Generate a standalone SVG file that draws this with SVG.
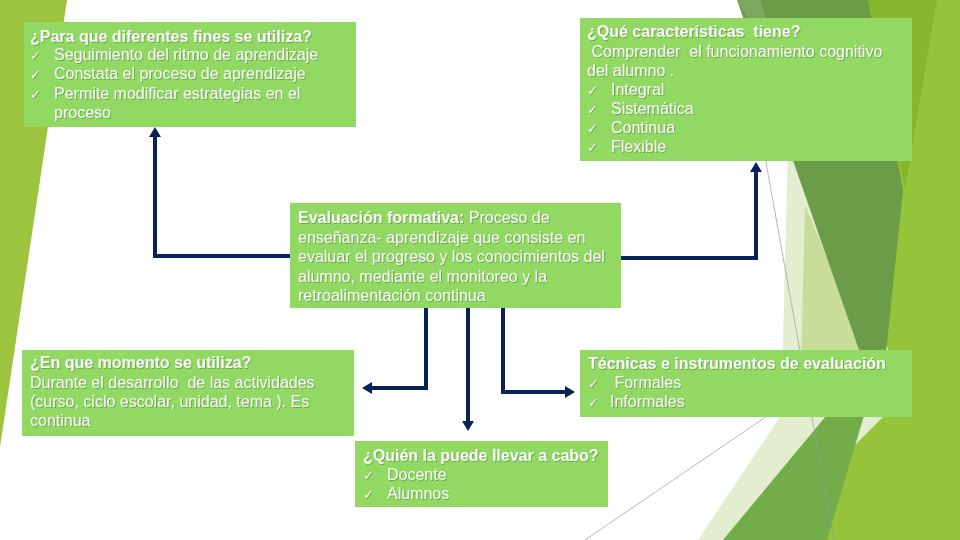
<svg xmlns="http://www.w3.org/2000/svg" width="960" height="540" viewBox="0 0 960 540">
<defs>
<style>
.box{fill:#92d964}
.t{font-family:"Liberation Sans",Arial,sans-serif;font-size:16px;fill:#f9f9f9;white-space:pre;filter:url(#sh)}
.b{font-weight:bold}
.ck{font-family:"DejaVu Sans",sans-serif;font-size:13px;fill:#f9f9f9;filter:url(#sh)}
.con{fill:none;stroke:#0b2259;stroke-width:4;stroke-linejoin:miter;marker-end:url(#ah)}
.thin{stroke:#9a9a9a;stroke-width:0.7;fill:none}
</style>
<filter id="sh" x="-5%" y="-20%" width="110%" height="140%">
<feDropShadow dx="1" dy="1" stdDeviation="0.4" flood-color="#3f6a2a" flood-opacity="0.45"/>
</filter>
<marker id="ah" viewBox="0 0 10 12" refX="2" refY="6" markerWidth="10" markerHeight="12" markerUnits="userSpaceOnUse" orient="auto">
<path d="M0,0 L10,6 L0,12 z" fill="#0b2259"/>
</marker>
</defs>
<rect width="960" height="540" fill="#ffffff"/>
<g id="decor">
<polygon points="0,0 67,0 0,447" fill="#9cc43f"/>
<polygon points="862,0 960,0 960,540 795,540" fill="#95c33a"/>
<polygon points="868,0 937,0 905,190" fill="#87b52c"/>
<polygon points="788,150 840,150 900,400 760,540 698,540 780,417 783,340" fill="#e3eed0"/>
<polygon points="805,205 870,360 800,405" fill="#c8de98"/>
<polygon points="737,0 868,0 903,190 880,410" fill="#6b9c47"/>
<polygon points="737,0 760,0 790,90" fill="#7ea860"/>
<polygon points="885,345 723,540 827,540" fill="#72ad4a"/>
<line class="thin" x1="762" y1="140" x2="834" y2="540"/>
<line class="thin" x1="585" y1="540" x2="820" y2="380"/>
</g>
<g id="connectors">
<path class="con" d="M290,256 H155 V135"/>
<path class="con" d="M621,258 H756 V170"/>
<path class="con" d="M426,308 V388 H370"/>
<path class="con" d="M468,308 V423"/>
<path class="con" d="M503,308 V392 H567"/>
</g>
<g id="fines">
<rect class="box" x="24" y="22" width="332" height="105"/>
<text class="t b" x="30" y="42">¿Para que diferentes fines se utiliza?</text>
<text class="ck" x="30" y="59.5">✓</text>
<text class="t" x="54" y="59.5">Seguimiento del ritmo de aprendizaje</text>
<text class="ck" x="30" y="79">✓</text>
<text class="t" x="54" y="79">Constata el proceso de aprendizaje</text>
<text class="ck" x="30" y="98.5">✓</text>
<text class="t" x="54" y="98.5">Permite modificar estrategias en el</text>
<text class="t" x="54" y="118">proceso</text>
</g>
<g id="caracteristicas">
<rect class="box" x="580" y="18" width="332" height="143"/>
<text class="t b" x="587" y="37">¿Qué características  tiene?</text>
<text class="t" x="587" y="56.5"> Comprender  el funcionamiento cognitivo</text>
<text class="t" x="587" y="75.8">del alumno .</text>
<text class="ck" x="587" y="95">✓</text>
<text class="t" x="611" y="95">Integral</text>
<text class="ck" x="587" y="114">✓</text>
<text class="t" x="611" y="114">Sistemática</text>
<text class="ck" x="587" y="133">✓</text>
<text class="t" x="611" y="133">Continua</text>
<text class="ck" x="587" y="152">✓</text>
<text class="t" x="611" y="152">Flexible</text>
</g>
<g id="evaluacion">
<rect class="box" x="290" y="203" width="331" height="105"/>
<text class="t" x="298" y="223"><tspan class="b">Evaluación formativa:</tspan> Proceso de</text>
<text class="t" x="298" y="242.5">enseñanza- aprendizaje que consiste en</text>
<text class="t" x="298" y="262">evaluar el progreso y los conocimientos del</text>
<text class="t" x="298" y="281.5">alumno, mediante el monitoreo y la</text>
<text class="t" x="298" y="300.5">retroalimentación continua</text>
</g>
<g id="momento">
<rect class="box" x="22" y="350" width="332" height="86"/>
<text class="t b" x="30" y="368">¿En que momento se utiliza?</text>
<text class="t" x="30" y="387.5">Durante el desarrollo  de las actividades</text>
<text class="t" x="30" y="406.5">(curso, ciclo escolar, unidad, tema ). Es</text>
<text class="t" x="30" y="426">continua</text>
</g>
<g id="tecnicas">
<rect class="box" x="580" y="350" width="332" height="67"/>
<text class="t b" x="588" y="368.5">Técnicas e instrumentos de evaluación</text>
<text class="ck" x="588" y="388">✓</text>
<text class="t" x="610" y="388"> Formales</text>
<text class="ck" x="588" y="407">✓</text>
<text class="t" x="610" y="407">Informales</text>
</g>
<g id="quien">
<rect class="box" x="355" y="441" width="253" height="66"/>
<text class="t b" x="363" y="461">¿Quién la puede llevar a cabo?</text>
<text class="ck" x="363" y="479.5">✓</text>
<text class="t" x="387" y="479.5">Docente</text>
<text class="ck" x="363" y="498.5">✓</text>
<text class="t" x="387" y="498.5">Alumnos</text>
</g>
</svg>
